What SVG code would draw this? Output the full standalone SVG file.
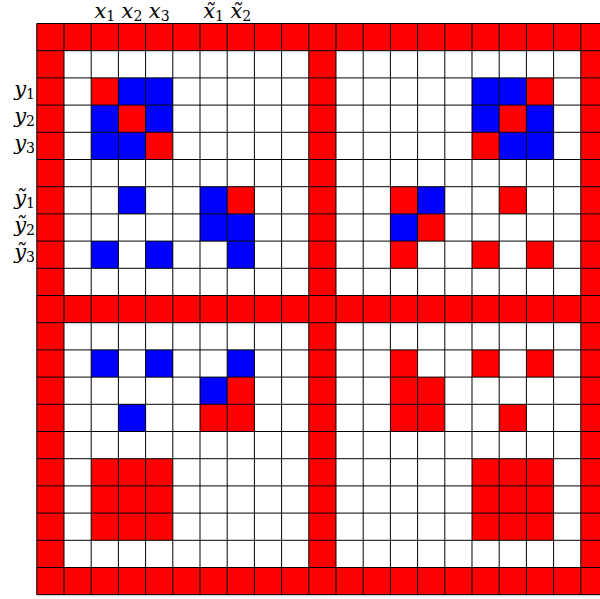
<svg xmlns="http://www.w3.org/2000/svg" width="600" height="599" viewBox="0 0 600 599">
<style>
.r{fill:#ff0000}
.b{fill:#0000ff}
.g{fill:none;stroke:#000;stroke-width:1;vector-effect:non-scaling-stroke}
</style>
<rect width="600" height="599" fill="#fff"/>
<g id="grid" transform="translate(36.8,23.5) scale(27.2)">
<g id="border">
<rect class="r" x="0" y="0" width="21" height="1"/>
<rect class="r" x="0" y="10" width="21" height="1"/>
<rect class="r" x="0" y="20" width="21" height="1"/>
<rect class="r" x="0" y="0" width="1" height="21"/>
<rect class="r" x="10" y="0" width="1" height="21"/>
<rect class="r" x="20" y="0" width="1" height="21"/>
</g>
<g id="topleft">
<rect class="r" x="2" y="2" width="1" height="1"/>
<rect class="b" x="3" y="2" width="1" height="1"/>
<rect class="b" x="4" y="2" width="1" height="1"/>
<rect class="b" x="2" y="3" width="1" height="1"/>
<rect class="r" x="3" y="3" width="1" height="1"/>
<rect class="b" x="4" y="3" width="1" height="1"/>
<rect class="b" x="2" y="4" width="1" height="1"/>
<rect class="b" x="3" y="4" width="1" height="1"/>
<rect class="r" x="4" y="4" width="1" height="1"/>
<rect class="b" x="3" y="6" width="1" height="1"/>
<rect class="b" x="6" y="6" width="1" height="1"/>
<rect class="r" x="7" y="6" width="1" height="1"/>
<rect class="b" x="6" y="7" width="1" height="1"/>
<rect class="b" x="7" y="7" width="1" height="1"/>
<rect class="b" x="2" y="8" width="1" height="1"/>
<rect class="b" x="4" y="8" width="1" height="1"/>
<rect class="b" x="7" y="8" width="1" height="1"/>
</g>
<g id="topright">
<rect class="b" x="16" y="2" width="1" height="1"/>
<rect class="b" x="17" y="2" width="1" height="1"/>
<rect class="r" x="18" y="2" width="1" height="1"/>
<rect class="b" x="16" y="3" width="1" height="1"/>
<rect class="r" x="17" y="3" width="1" height="1"/>
<rect class="b" x="18" y="3" width="1" height="1"/>
<rect class="r" x="16" y="4" width="1" height="1"/>
<rect class="b" x="17" y="4" width="1" height="1"/>
<rect class="b" x="18" y="4" width="1" height="1"/>
<rect class="r" x="13" y="6" width="1" height="1"/>
<rect class="b" x="14" y="6" width="1" height="1"/>
<rect class="r" x="17" y="6" width="1" height="1"/>
<rect class="b" x="13" y="7" width="1" height="1"/>
<rect class="r" x="14" y="7" width="1" height="1"/>
<rect class="r" x="13" y="8" width="1" height="1"/>
<rect class="r" x="16" y="8" width="1" height="1"/>
<rect class="r" x="18" y="8" width="1" height="1"/>
</g>
<g id="bottomleft">
<rect class="b" x="2" y="12" width="1" height="1"/>
<rect class="b" x="4" y="12" width="1" height="1"/>
<rect class="b" x="7" y="12" width="1" height="1"/>
<rect class="b" x="6" y="13" width="1" height="1"/>
<rect class="r" x="7" y="13" width="1" height="1"/>
<rect class="b" x="3" y="14" width="1" height="1"/>
<rect class="r" x="6" y="14" width="1" height="1"/>
<rect class="r" x="7" y="14" width="1" height="1"/>
<rect class="r" x="2" y="16" width="3" height="3"/>
</g>
<g id="bottomright">
<rect class="r" x="13" y="12" width="1" height="1"/>
<rect class="r" x="16" y="12" width="1" height="1"/>
<rect class="r" x="18" y="12" width="1" height="1"/>
<rect class="r" x="13" y="13" width="1" height="1"/>
<rect class="r" x="14" y="13" width="1" height="1"/>
<rect class="r" x="13" y="14" width="1" height="1"/>
<rect class="r" x="14" y="14" width="1" height="1"/>
<rect class="r" x="17" y="14" width="1" height="1"/>
<rect class="r" x="16" y="16" width="3" height="3"/>
</g>
<path id="lines" class="g" d="M0 0V21M1 0V21M2 0V21M3 0V21M4 0V21M5 0V21M6 0V21M7 0V21M8 0V21M9 0V21M10 0V21M11 0V21M12 0V21M13 0V21M14 0V21M15 0V21M16 0V21M17 0V21M18 0V21M19 0V21M20 0V21M21 0V21M0 0H21M0 1H21M0 2H21M0 3H21M0 4H21M0 5H21M0 6H21M0 7H21M0 8H21M0 9H21M0 10H21M0 11H21M0 12H21M0 13H21M0 14H21M0 15H21M0 16H21M0 17H21M0 18H21M0 19H21M0 20H21M0 21H21"/>
</g>
<g id="labels" font-family="'DejaVu Serif', 'Liberation Serif', serif" font-style="italic" font-size="21" fill="#000">
<text x="104.8" y="18" text-anchor="middle">x<tspan font-style="normal" font-size="14" dy="3">1</tspan></text>
<text x="132" y="18" text-anchor="middle">x<tspan font-style="normal" font-size="14" dy="3">2</tspan></text>
<text x="159.2" y="18" text-anchor="middle">x<tspan font-style="normal" font-size="14" dy="3">3</tspan></text>
<text x="213.6" y="18" text-anchor="middle">x̃<tspan font-style="normal" font-size="14" dy="3">1</tspan></text>
<text x="240.8" y="18" text-anchor="middle">x̃<tspan font-style="normal" font-size="14" dy="3">2</tspan></text>
<text x="35" y="96" text-anchor="end">y<tspan font-style="normal" font-size="14" dy="3">1</tspan></text>
<text x="35" y="123" text-anchor="end">y<tspan font-style="normal" font-size="14" dy="3">2</tspan></text>
<text x="35" y="150" text-anchor="end">y<tspan font-style="normal" font-size="14" dy="3">3</tspan></text>
<text x="35" y="205" text-anchor="end">ỹ<tspan font-style="normal" font-size="14" dy="3">1</tspan></text>
<text x="35" y="232" text-anchor="end">ỹ<tspan font-style="normal" font-size="14" dy="3">2</tspan></text>
<text x="35" y="259" text-anchor="end">ỹ<tspan font-style="normal" font-size="14" dy="3">3</tspan></text>
</g>
</svg>
